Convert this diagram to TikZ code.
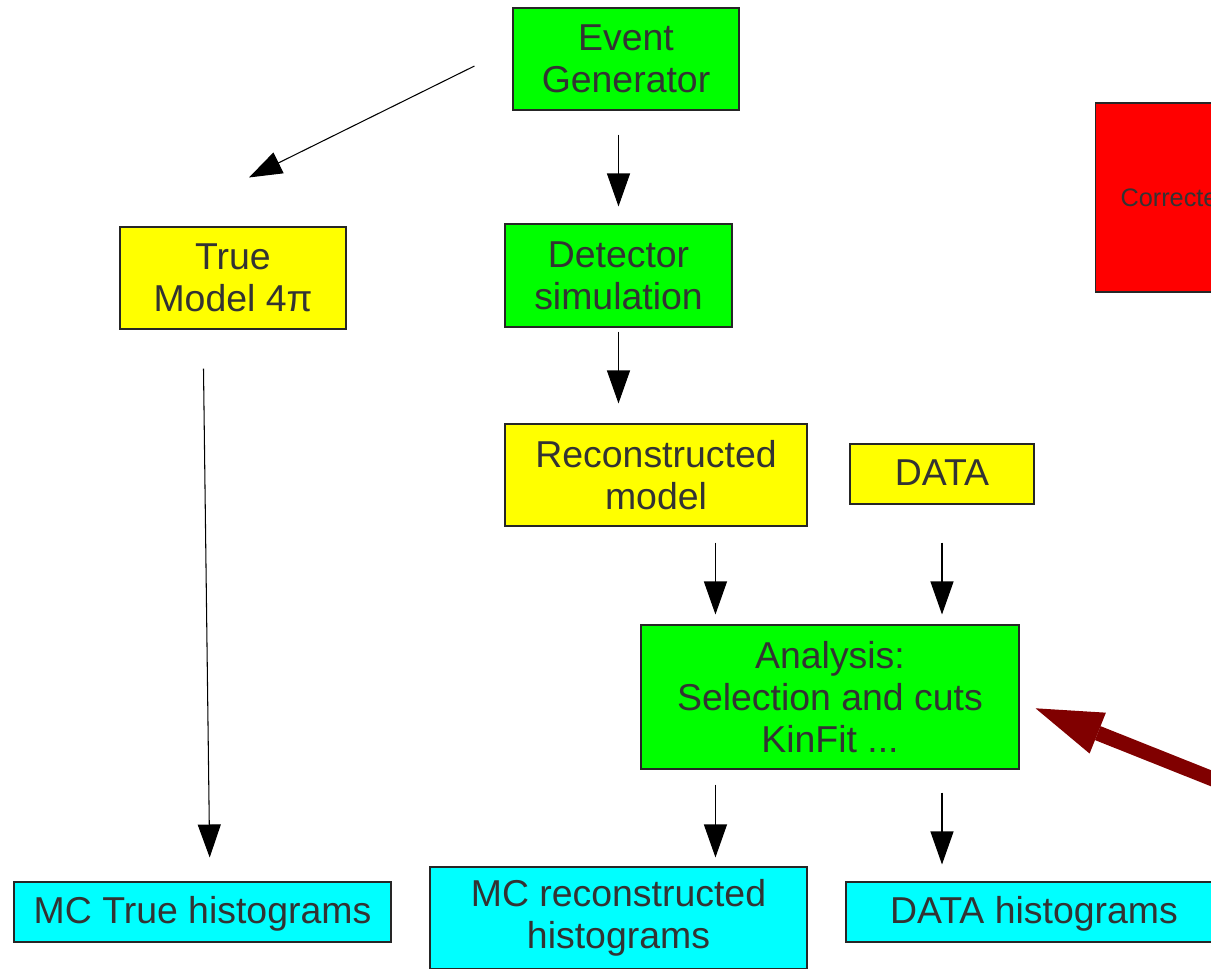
\documentclass[tikz,border=0pt]{standalone}
\usepackage{fontspec}
\setmainfont{Liberation Sans}
\usetikzlibrary{arrows.meta}
\newdimen\pxu
\pxu=0.02cm
\definecolor{txt}{HTML}{333333}
\definecolor{boxgreen}{HTML}{00FF00}
\definecolor{boxyellow}{HTML}{FFFF00}
\definecolor{boxcyan}{HTML}{00FFFF}
\definecolor{boxred}{HTML}{FF0000}
\definecolor{darkred}{HTML}{800000}
\tikzset{
  box/.style={rectangle, draw=black!85, line width=0.6pt, inner sep=0pt, align=center,
    text=txt, font=\fontsize{21.3pt}{23.8pt}\selectfont},
  greenbox/.style={box, fill=boxgreen},
  yellowbox/.style={box, fill=boxyellow},
  cyanbox/.style={box, fill=boxcyan},
  arr/.style={-{Triangle[length=0.66cm, width=0.46cm]}, line width=0.6pt, black},
  bigarr/.style={-{Triangle[length=1.34cm, width=0.88cm, line width=0pt]}, line width=0.3cm, darkred}
}
\begin{document}
\begin{tikzpicture}[x=0.02cm, y=-0.02cm]
  \useasboundingbox (0,0) rectangle (1211,968);
  \clip (0,0) rectangle (1211,968);
  % boxes
  \node[greenbox, minimum width=226\pxu, minimum height=102\pxu] (ev) at (626,59) {Event\\Generator};
  \node[yellowbox, minimum width=226\pxu, minimum height=102\pxu] (tm) at (233,278) {True\\Model 4π};
  \node[greenbox, minimum width=227\pxu, minimum height=103\pxu] (det) at (618.5,275.5) {Detector\\simulation};
  \node[yellowbox, minimum width=302\pxu, minimum height=102\pxu] (rec) at (656,475) {Reconstructed\\model};
  \node[yellowbox, minimum width=184\pxu, minimum height=60\pxu, text depth=2pt] (data) at (942,474) {DATA};
  \node[greenbox, minimum width=378\pxu, minimum height=144\pxu] (ana) at (830,697) {Analysis:\\Selection and cuts\\KinFit ...};
  \node[cyanbox, minimum width=377\pxu, minimum height=60\pxu, text depth=2pt] (mt) at (202.5,912) {MC True histograms};
  \node[cyanbox, minimum width=377\pxu, minimum height=102\pxu] (mr) at (618.5,918) {MC reconstructed\\histograms};
  \node[cyanbox, minimum width=376\pxu, minimum height=60\pxu, text depth=2pt] (dh) at (1034,912) {DATA histograms};
  \node[box, fill=boxred, anchor=west, inner xsep=25\pxu, minimum height=189\pxu,
    font=\fontsize{14.4pt}{16pt}\selectfont] (corr) at (1095,197.5) {Corrected};
  % connectors
  \coordinate (ka) at ([xshift=1.5cm]ana.north west);
  \coordinate (gen) at ([xshift=-0.76cm, yshift=-0.14cm]ev.west);
  \coordinate (far) at (1300,813.7);
  \draw[arr] (gen) -- ([xshift=0.32cm, yshift=0.98cm]tm.north);
  \draw[arr, shorten <=0.48cm, shorten >=0.34cm] (ev.south -| det.north) -- (det.north);
  \draw[arr, shorten <=0.08cm, shorten >=0.4cm] (det.south) -- (det.south |- rec.north);
  \draw[arr, shorten <=0.78cm, shorten >=0.48cm] ([xshift=-0.6cm]tm.south) -- ([xshift=0.15cm]mt.north);
  \draw[arr, shorten <=0.32cm, shorten >=0.2cm] (rec.south -| ka) -- (ka);
  \draw[arr, shorten <=0.76cm, shorten >=0.2cm] (data.south) -- (data.south |- ana.north);
  \draw[arr, shorten <=0.3cm, shorten >=0.18cm] (ana.south -| ka) -- (ka |- mr.north);
  \draw[arr, shorten <=0.46cm, shorten >=0.34cm] (ana.south -| data.south) -- (data.south |- dh.north);
  \draw[bigarr] (far) -- ([xshift=0.32cm, yshift=-0.226cm]ana.east);
\end{tikzpicture}
\end{document}
